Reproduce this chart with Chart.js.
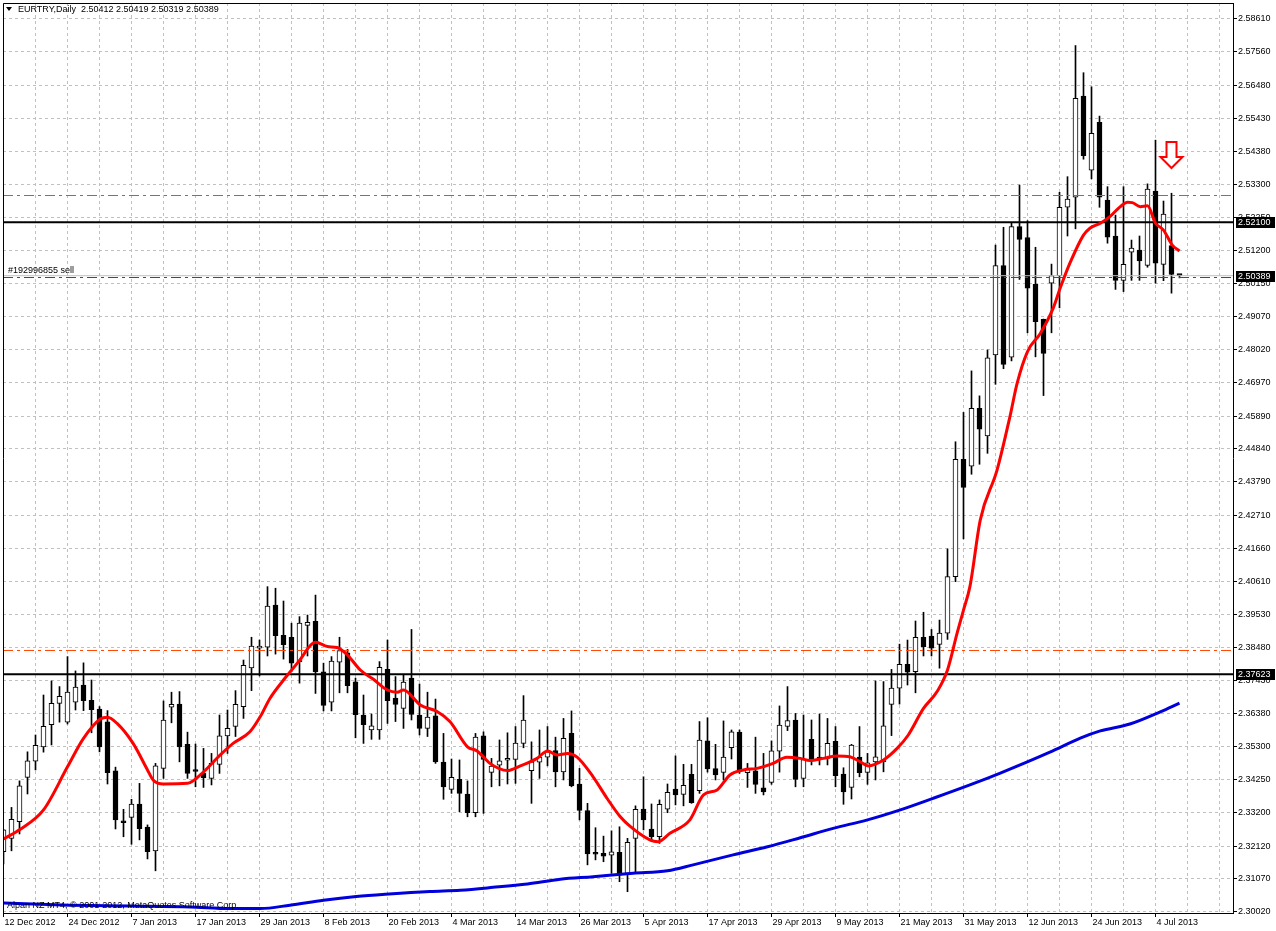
<!DOCTYPE html>
<html>
<head>
<meta charset="utf-8">
<title>EURTRY,Daily</title>
<script src="https://cdn.jsdelivr.net/npm/chart.js@4.4.0/dist/chart.umd.min.js"></script>
<style>
  html, body { margin: 0; padding: 0; background: #fff; }
  canvas { display: block; }
</style>
</head>
<body>
<canvas id="chart" width="1276" height="931"></canvas>
<script>
// time axis labels, one every 8 bars (12 Dec 2012 is bar 0)
const dateLabels = ['12 Dec 2012', '24 Dec 2012', '7 Jan 2013', '17 Jan 2013', '29 Jan 2013', '8 Feb 2013',
  '20 Feb 2013', '4 Mar 2013', '14 Mar 2013', '26 Mar 2013', '5 Apr 2013', '17 Apr 2013', '29 Apr 2013',
  '9 May 2013', '21 May 2013', '31 May 2013', '12 Jun 2013', '24 Jun 2013', '4 Jul 2013'];
const barsPerLabel = 8;

// daily bars, 12 Dec 2012 .. 9 Jul 2013
const open = [
  2.3194, 2.3237, 2.3290, 2.3432, 2.3484, 2.3530, 2.3601, 2.3669, 2.3609, 2.3673,
  2.3728, 2.3679, 2.3651, 2.3610, 2.3453, 2.3293, 2.3304, 2.3347, 2.3273, 2.3197,
  2.3461, 2.3657, 2.3667, 2.3538, 2.3456, 2.3446, 2.3429, 2.3474, 2.3565, 2.3595,
  2.3659, 2.3783, 2.3846, 2.3849, 2.3984, 2.3887, 2.3881, 2.3802, 2.3919, 2.3932,
  2.3770, 2.3673, 2.3801, 2.3831, 2.3738, 2.3632, 2.3584, 2.3584, 2.3778, 2.3686,
  2.3653, 2.3750, 2.3632, 2.3589, 2.3629, 2.3481, 2.3394, 2.3426, 2.3379, 2.3319,
  2.3565, 2.3448, 2.3471, 2.3487, 2.3490, 2.3541, 2.3454, 2.3481, 2.3497, 2.3518,
  2.3450, 2.3573, 2.3411, 2.3326, 2.3188, 2.3189, 2.3183, 2.3192, 2.3125, 2.3237,
  2.3331, 2.3267, 2.3242, 2.3330, 2.3395, 2.3378, 2.3442, 2.3390, 2.3549, 2.3460,
  2.3448, 2.3527, 2.3577, 2.3447, 2.3453, 2.3399, 2.3416, 2.3516, 2.3595, 2.3616,
  2.3429, 2.3554, 2.3497, 2.3493, 2.3548, 2.3443, 2.3400, 2.3497, 2.3448, 2.3482,
  2.3482, 2.3666, 2.3718, 2.3794, 2.3771, 2.3881, 2.3885, 2.3858, 2.3894, 2.4075,
  2.4451, 2.4429, 2.4614, 2.4526, 2.4785, 2.5071, 2.4778, 2.5196, 2.5161, 2.5011,
  2.4899, 2.5015, 2.5039, 2.5258, 2.5290, 2.5614, 2.5377, 2.5530, 2.5281, 2.5166,
  2.5024, 2.5114, 2.5121, 2.5072, 2.5310, 2.5075, 2.5135, 2.50412
];
const high = [
  2.3266, 2.3336, 2.3421, 2.3514, 2.3568, 2.3696, 2.3741, 2.3723, 2.3819, 2.3773,
  2.3799, 2.3744, 2.3659, 2.3646, 2.3465, 2.3330, 2.3362, 2.3413, 2.3280, 2.3477,
  2.3677, 2.3705, 2.3707, 2.3577, 2.3539, 2.3525, 2.3509, 2.3632, 2.3648, 2.3710,
  2.3808, 2.3881, 2.3872, 2.4043, 2.4038, 2.3997, 2.3926, 2.3947, 2.3952, 2.4016,
  2.3798, 2.3819, 2.3881, 2.3842, 2.3750, 2.3696, 2.3635, 2.3803, 2.3872, 2.3755,
  2.3760, 2.3906, 2.3731, 2.3705, 2.3683, 2.3573, 2.3491, 2.3488, 2.3421, 2.3573,
  2.3578, 2.3493, 2.3552, 2.3575, 2.3595, 2.3694, 2.3546, 2.3584, 2.3595, 2.3561,
  2.3621, 2.3645, 2.3461, 2.3349, 2.3271, 2.3244, 2.3261, 2.3274, 2.3237, 2.3341,
  2.3434, 2.3347, 2.3360, 2.3411, 2.3501, 2.3474, 2.3474, 2.3611, 2.3623, 2.3538,
  2.3613, 2.3584, 2.3584, 2.3477, 2.3561, 2.3509, 2.3549, 2.3661, 2.3723, 2.3637,
  2.3632, 2.3616, 2.3635, 2.3621, 2.3595, 2.3463, 2.3538, 2.3595, 2.3509, 2.3741,
  2.3739, 2.3778, 2.3859, 2.3872, 2.3933, 2.3961, 2.3906, 2.3936, 2.4164, 2.4507,
  2.4601, 2.4734, 2.4654, 2.4801, 2.5137, 2.5194, 2.5209, 2.5329, 2.5215, 2.5130,
  2.4900, 2.5076, 2.5306, 2.5356, 2.5776, 2.5689, 2.5644, 2.5550, 2.5324, 2.5233,
  2.5324, 2.5153, 2.5166, 2.5333, 2.5473, 2.5278, 2.5303, 2.50419
];
const low = [
  2.3155, 2.3197, 2.3251, 2.3379, 2.3456, 2.3513, 2.3536, 2.3609, 2.3603, 2.3648,
  2.3646, 2.3575, 2.3514, 2.3411, 2.3267, 2.3242, 2.3218, 2.3232, 2.3171, 2.3133,
  2.3429, 2.3607, 2.3482, 2.3429, 2.3402, 2.3400, 2.3408, 2.3445, 2.3509, 2.3563,
  2.3621, 2.3710, 2.3757, 2.3821, 2.3827, 2.3811, 2.3771, 2.3734, 2.3821, 2.3701,
  2.3645, 2.3645, 2.3703, 2.3703, 2.3559, 2.3541, 2.3554, 2.3554, 2.3605, 2.3611,
  2.3589, 2.3616, 2.3568, 2.3563, 2.3477, 2.3362, 2.3381, 2.3322, 2.3306, 2.3306,
  2.3317, 2.3402, 2.3405, 2.3411, 2.3413, 2.3527, 2.3349, 2.3429, 2.3469, 2.3402,
  2.3424, 2.3402, 2.3296, 2.3152, 2.3168, 2.3162, 2.3125, 2.3098, 2.3066, 2.3125,
  2.3264, 2.3226, 2.3221, 2.3319, 2.3344, 2.3341, 2.3349, 2.3381, 2.3449, 2.3424,
  2.3424, 2.3491, 2.3445, 2.3400, 2.3381, 2.3376, 2.3410, 2.3449, 2.3582, 2.3402,
  2.3402, 2.3472, 2.3472, 2.3472, 2.3402, 2.3346, 2.3363, 2.3434, 2.3410, 2.3424,
  2.3450, 2.3566, 2.3667, 2.3728, 2.3703, 2.3821, 2.3821, 2.3782, 2.3874, 2.4059,
  2.4196, 2.4403, 2.4435, 2.4470, 2.4691, 2.4741, 2.4766, 2.5027, 2.4856, 2.4779,
  2.4655, 2.4856, 2.4936, 2.5166, 2.5189, 2.5412, 2.5349, 2.5258, 2.5143, 2.4995,
  2.4988, 2.5024, 2.5024, 2.5066, 2.5015, 2.5023, 2.4983, 2.50319
];
const close = [
  2.3264, 2.3298, 2.3405, 2.3485, 2.3535, 2.3596, 2.3669, 2.3692, 2.3705, 2.3721,
  2.3678, 2.3649, 2.3530, 2.3447, 2.3296, 2.3287, 2.3347, 2.3268, 2.3194, 2.3469,
  2.3616, 2.3666, 2.3530, 2.3445, 2.3451, 2.3431, 2.3477, 2.3565, 2.3589, 2.3666,
  2.3791, 2.3853, 2.3853, 2.3981, 2.3886, 2.3857, 2.3798, 2.3926, 2.3929, 2.3770,
  2.3663, 2.3805, 2.3838, 2.3726, 2.3633, 2.3601, 2.3597, 2.3785, 2.3678, 2.3666,
  2.3737, 2.3634, 2.3589, 2.3625, 2.3482, 2.3402, 2.3432, 2.3381, 2.3319, 2.3561,
  2.3490, 2.3468, 2.3485, 2.3489, 2.3542, 2.3616, 2.3482, 2.3497, 2.3514, 2.3450,
  2.3557, 2.3405, 2.3326, 2.3187, 2.3186, 2.3180, 2.3194, 2.3120, 2.3224, 2.3330,
  2.3296, 2.3242, 2.3346, 2.3384, 2.3376, 2.3407, 2.3351, 2.3552, 2.3459, 2.3440,
  2.3497, 2.3578, 2.3454, 2.3458, 2.3410, 2.3386, 2.3517, 2.3600, 2.3614, 2.3426,
  2.3489, 2.3488, 2.3491, 2.3541, 2.3438, 2.3386, 2.3536, 2.3447, 2.3479, 2.3498,
  2.3597, 2.3718, 2.3794, 2.3769, 2.3881, 2.3851, 2.3846, 2.3894, 2.4075, 2.4451,
  2.4361, 2.4614, 2.4547, 2.4776, 2.5071, 2.4755, 2.5196, 2.5155, 2.4999, 2.4892,
  2.4790, 2.5039, 2.5258, 2.5284, 2.5607, 2.5423, 2.5495, 2.5290, 2.5162, 2.5024,
  2.5075, 2.5127, 2.5086, 2.5316, 2.5079, 2.5236, 2.5043, 2.50389
];

// fast moving average (red): bar position -> price
const fastMaAt = [0, 2.1, 5, 8, 10, 12.1, 13, 14.2, 16.2, 18, 18.7, 20, 23, 24.6, 27.1, 28.7, 30.8, 32.1, 33.3, 35,
  37.1, 38.3, 39, 40.5, 41.7, 43, 44.6, 46.2, 48, 49.2, 50, 52.1, 54.2, 55.8, 58, 59.2, 60.8, 63, 64.6, 66.7,
  68, 69.2, 70.5, 71.7, 73.7, 75.5, 77.1, 78.3, 80.8, 81.8, 83.3, 85.8, 87.5, 89.2, 90.8, 92.5, 94.2, 96.2, 97.9, 99.6,
  100.8, 102.5, 104.2, 105.8, 107.1, 108.1, 110, 111.7, 113.1, 115, 116.7, 118, 119.2, 120, 120.8, 122.1, 124.2, 125.8, 126.7, 128,
  129.6, 131.2, 132.1, 133.3, 135, 135.8, 137.1, 138.3, 139.6, 140.5, 141.1, 142.1, 143, 144, 145, 146.1, 147];
const fastMa = [2.3235, 2.3266, 2.3328, 2.3466, 2.3557, 2.3619, 2.3625, 2.3605, 2.3541, 2.3456, 2.3424, 2.3411, 2.3413, 2.3440, 2.3504, 2.3541, 2.3578, 2.3627, 2.3685, 2.3744,
  2.3810, 2.3853, 2.3865, 2.3851, 2.3848, 2.3824, 2.3776, 2.3747, 2.3712, 2.3705, 2.3712, 2.3664, 2.3643, 2.3611, 2.3530, 2.3517, 2.3477, 2.3454, 2.3469, 2.3493,
  2.3517, 2.3504, 2.3509, 2.3497, 2.3434, 2.3363, 2.3306, 2.3276, 2.3232, 2.3226, 2.3253, 2.3296, 2.3376, 2.3392, 2.3440, 2.3456, 2.3461, 2.3477, 2.3497, 2.3493,
  2.3486, 2.3493, 2.3501, 2.3498, 2.3482, 2.3469, 2.3488, 2.3525, 2.3568, 2.3653, 2.3707, 2.3776, 2.3894, 2.3968, 2.4043, 2.4257, 2.4417, 2.4587, 2.4694, 2.4796,
  2.4854, 2.4934, 2.5000, 2.5079, 2.5169, 2.5191, 2.5207, 2.5228, 2.5260, 2.5274, 2.5273, 2.5260, 2.5263, 2.5207, 2.5185, 2.5137, 2.5118];

// slow moving average (blue)
const slowMaAt = [0, 8.3, 15.8, 23.3, 28.3, 32.1, 35.8, 40, 44.1, 48.2, 53.3, 57.1, 61.2, 65.5, 69.6, 73.7, 78.7,
  83, 86.2, 91.2, 95.5, 99.6, 103.7, 108, 112.1, 116.2, 120.8, 124.6, 130.8, 134.6, 137.1, 140.8, 144.6, 147];
const slowMa = [2.3030, 2.3023, 2.3020, 2.3017, 2.3012, 2.3012, 2.3023, 2.3039, 2.3051, 2.3059, 2.3067, 2.3071, 2.3080,
  2.3091, 2.3106, 2.3114, 2.3125, 2.3133, 2.3152, 2.3184, 2.3210, 2.3239, 2.3269, 2.3296, 2.3328, 2.3365, 2.3408,
  2.3446, 2.3513, 2.3558, 2.3581, 2.3603, 2.3642, 2.3670];

// price scale labels
const priceTicks = [2.58610, 2.57560, 2.56480, 2.55430, 2.54380, 2.53300, 2.52250, 2.51200, 2.50150, 2.49070,
  2.48020, 2.46970, 2.45890, 2.44840, 2.43790, 2.42710, 2.41660, 2.40610, 2.39530, 2.38480, 2.37430, 2.36380,
  2.35300, 2.34250, 2.33200, 2.32120, 2.31070, 2.30020];

// horizontal levels and the open order
const resistance = 2.52100;
const support = 2.37623;
const stopLoss = 2.52957;
const takeProfit = 2.38386;
const bid = 2.50389;
const orderOpen = 2.50331;
const orderLabel = '#192996855 sell';
const arrowBar = 145.9;
const arrowPrice = 2.5466;

const symbolTitle = 'EURTRY,Daily';
const copyright = 'Alpan NZ MT4, \u00a9 2001-2012, MetaQuotes Software Corp.';

// visible window: 8 px per bar, price range of the screen
const xMin = -0.0625, xMax = 153.6875;
const yMin = 2.299784, yMax = 2.591224;

const FONT = '"Liberation Sans", Arial, sans-serif';
const last = close.length - 1;

// build the library datasets
const wickData = high.map((h, i) => ({ x: i, y: [low[i], h] }));
const bodyData = open.map((o, i) => ({ x: i, y: [o, close[i]] }));
const bodyColors = open.map((o, i) => close[i] >= o ? '#ffffff' : '#000000');

function level(value) {
  return [{ x: xMin, y: value }, { x: xMax, y: value }];
}

const gridBars = [];
for (let b = 0; b <= xMax; b += 4) gridBars.push(b);

// frame, texts, arrow and price boxes on the axis
const mt4Overlay = {
  id: 'mt4Overlay',
  afterDraw(chart) {
    const { ctx, chartArea: a, scales: { x, y } } = chart;
    ctx.save();

    // top and left frame lines
    ctx.strokeStyle = '#000';
    ctx.lineWidth = 1;
    ctx.beginPath();
    ctx.moveTo(a.left + 0.5, a.bottom);
    ctx.lineTo(a.left + 0.5, a.top + 0.5);
    ctx.lineTo(a.right, a.top + 0.5);
    ctx.stroke();

    // down arrow
    const cx = Math.round(x.getPixelForValue(arrowBar)) + 0.5;
    const top = Math.round(y.getPixelForValue(arrowPrice));
    ctx.beginPath();
    ctx.moveTo(cx - 5, top);
    ctx.lineTo(cx + 5, top);
    ctx.lineTo(cx + 5, top + 15);
    ctx.lineTo(cx + 11, top + 15);
    ctx.lineTo(cx, top + 26);
    ctx.lineTo(cx - 11, top + 15);
    ctx.lineTo(cx - 5, top + 15);
    ctx.closePath();
    ctx.fillStyle = '#fff';
    ctx.fill();
    ctx.strokeStyle = '#ff0000';
    ctx.lineWidth = 2;
    ctx.stroke();

    // header
    ctx.fillStyle = '#000';
    ctx.textBaseline = 'middle';
    ctx.textAlign = 'left';
    ctx.beginPath();
    ctx.moveTo(6, 7);
    ctx.lineTo(12, 7);
    ctx.lineTo(9, 11);
    ctx.closePath();
    ctx.fill();
    ctx.font = '9px ' + FONT;
    const ohlc = [open[last], high[last], low[last], close[last]].map(v => v.toFixed(5)).join(' ');
    ctx.fillText(symbolTitle + '  ' + ohlc, 18, 10);

    // order label and copyright
    ctx.fillText(orderLabel, 8, y.getPixelForValue(orderOpen) - 7);
    ctx.fillText(copyright, 7, 906);

    // price boxes on the right scale
    [resistance, bid, support].forEach(v => {
      const py = Math.round(y.getPixelForValue(v));
      ctx.fillStyle = '#000';
      ctx.fillRect(a.right + 3, py - 5, 39, 11);
      ctx.fillStyle = '#fff';
      ctx.fillText(v.toFixed(5), a.right + 5, py + 0.5);
    });
    ctx.restore();
  }
};

const chart = new Chart(document.getElementById('chart'), {
  type: 'bar',
  data: {
    datasets: [{
      type: 'line',
      data: fastMaAt.map((b, i) => ({ x: b, y: fastMa[i] })),
      borderColor: '#ff0000',
      borderWidth: 3,
      pointRadius: 0,
      cubicInterpolationMode: 'monotone',
      order: 0
    }, {
      type: 'line',
      data: slowMaAt.map((b, i) => ({ x: b, y: slowMa[i] })),
      borderColor: '#0000dd',
      borderWidth: 3,
      pointRadius: 0,
      cubicInterpolationMode: 'monotone',
      order: 1
    }, {
      type: 'line', data: level(resistance), borderColor: '#000', borderWidth: 2, pointRadius: 0, order: 1
    }, {
      type: 'line', data: level(support), borderColor: '#000', borderWidth: 2, pointRadius: 0, order: 1
    }, {
      type: 'line', data: level(stopLoss), borderColor: '#ff4500', borderWidth: 1, borderDash: [10, 4, 3, 4], pointRadius: 0, order: 1
    }, {
      type: 'line', data: level(takeProfit), borderColor: '#ff4500', borderWidth: 1, borderDash: [10, 4, 3, 4], pointRadius: 0, order: 1
    }, {
      type: 'line', data: level(bid), borderColor: '#c0c0c0', borderWidth: 1, pointRadius: 0, order: 1
    }, {
      type: 'line', data: level(orderOpen), borderColor: '#008000', borderWidth: 1, borderDash: [10, 4, 3, 4], pointRadius: 0, order: 1
    }, {
      // candle bodies
      data: bodyData,
      backgroundColor: bodyColors,
      borderColor: '#000',
      borderWidth: 1,
      borderSkipped: false,
      barThickness: 5,
      minBarLength: 2,
      grouped: false,
      order: 3
    }, {
      // high-low wicks
      data: wickData,
      backgroundColor: '#000',
      borderWidth: 0,
      barThickness: 1,
      grouped: false,
      order: 4
    }]
  },
  options: {
    responsive: false,
    devicePixelRatio: 1,
    animation: false,
    layout: { padding: { left: 3, top: 3, right: 0, bottom: 0 } },
    plugins: { legend: { display: false }, tooltip: { enabled: false } },
    scales: {
      x: {
        type: 'linear',
        position: 'bottom',
        min: xMin,
        max: xMax,
        offset: false,
        afterBuildTicks: s => { s.ticks = gridBars.map(v => ({ value: v })); },
        afterFit: s => { s.height = 18; s.paddingLeft = 0; s.paddingRight = 0; },
        grid: {
          color: '#c0c0c0',
          offset: false,
          tickLength: 4,
          tickBorderDash: [],
          tickColor: ctx => (ctx.tick && ctx.tick.value % barsPerLabel === 0 && ctx.tick.value / barsPerLabel < dateLabels.length) ? '#000' : 'rgba(0,0,0,0)'
        },
        border: { color: '#000', width: 1, dash: [3, 3] },
        ticks: {
          autoSkip: false,
          maxRotation: 0,
          minRotation: 0,
          align: 'start',
          padding: 0,
          labelOffset: 1,
          color: '#000',
          font: { family: FONT, size: 9 },
          callback: v => (v % barsPerLabel === 0 && v / barsPerLabel < dateLabels.length) ? dateLabels[v / barsPerLabel] : ''
        }
      },
      y: {
        type: 'linear',
        position: 'right',
        min: yMin,
        max: yMax,
        afterBuildTicks: s => { s.ticks = priceTicks.map(v => ({ value: v })); },
        afterFit: s => { s.width = 43; s.paddingTop = 0; s.paddingBottom = 0; },
        grid: { color: '#c0c0c0', tickLength: 4, tickColor: '#000', tickBorderDash: [] },
        border: { color: '#000', width: 1, dash: [3, 3] },
        ticks: {
          autoSkip: false,
          padding: 1,
          color: '#000',
          font: { family: FONT, size: 9 },
          callback: v => v.toFixed(5)
        }
      }
    }
  },
  plugins: [mt4Overlay]
});
</script>
</body>
</html>
